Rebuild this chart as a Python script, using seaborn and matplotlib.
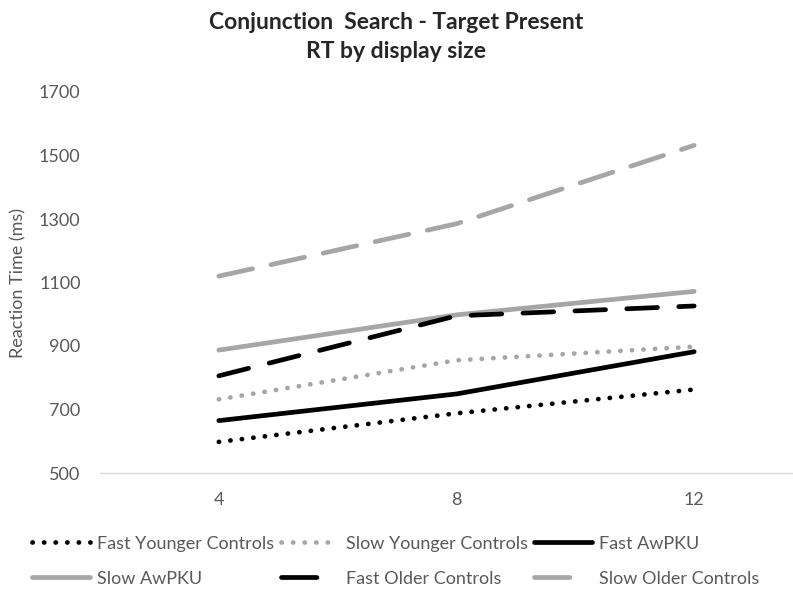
import pandas as pd
import seaborn as sns
import matplotlib.pyplot as plt
from matplotlib.lines import Line2D

# Werte (ms)
display_sizes = ["4", "8", "12"]
fast_younger = [598, 688, 763]
slow_younger = [732, 855, 898]
fast_awpku = [665, 749, 882]
slow_awpku = [887, 998, 1072]
fast_older = [806, 995, 1026]
slow_older = [1120, 1285, 1532]

series_names = ["Fast Younger Controls", "Slow Younger Controls", "Fast AwPKU",
                "Slow AwPKU", "Fast Older Controls", "Slow Older Controls"]
series_values = [fast_younger, slow_younger, fast_awpku, slow_awpku, fast_older, slow_older]

BLACK = "#000000"
GREY = "#A6A6A6"
LW = 3.4
styles = {
    "Fast Younger Controls": (BLACK, (0, (0.05, 2.4))),
    "Slow Younger Controls": (GREY, (0, (0.05, 2.4))),
    "Fast AwPKU": (BLACK, "-"),
    "Slow AwPKU": (GREY, "-"),
    "Fast Older Controls": (BLACK, (0, (6.5, 4.5))),
    "Slow Older Controls": (GREY, (0, (7.3, 4.0))),
}

sns.set_style("white")
plt.rcParams["font.family"] = ["Lato", "DejaVu Sans"]

fig = plt.figure(figsize=(7.93, 5.90), dpi=100)
ax = fig.add_axes([100 / 793, 117 / 590, 713 / 793, 381 / 590])

for name, vals in zip(series_names, series_values):
    color, ls = styles[name]
    df = pd.DataFrame({"size": display_sizes, "rt": vals})
    sns.lineplot(data=df, x="size", y="rt", ax=ax, color=color, linestyle=ls,
                 linewidth=LW, sort=False, legend=False,
                 solid_capstyle="round", dash_capstyle="round")

ax.set_xlim(-0.5, 2.5)
ax.set_ylim(500, 1700)
ax.set_yticks(range(500, 1701, 200))
ax.set_xlabel("")
ax.set_ylabel("Reaction Time (ms)", color="#595959", fontsize=13, labelpad=9)
ax.tick_params(axis="both", colors="#595959", labelsize=13, length=0)
ax.tick_params(axis="x", pad=14)
ax.tick_params(axis="y", pad=14)

sns.despine(ax=ax, left=True, top=True, right=True)
ax.spines["bottom"].set_color("#D9D9D9")
ax.spines["bottom"].set_linewidth(1)

fig.text(0.5, 0.962, "Conjunction  Search - Target Present", ha="center", va="center",
         fontsize=16.5, fontweight="bold")
fig.text(0.5, 0.912, "RT by display size", ha="center", va="center",
         fontsize=16.5, fontweight="bold")

# Legende wie in Excel: Striche nur als ein Segment
legend_styles = dict(styles)
legend_styles["Fast Older Controls"] = (BLACK, (0, (7.5, 20)))
legend_styles["Slow Older Controls"] = (GREY, (0, (7.5, 20)))
handles = []
for name in series_names:
    color, ls = legend_styles[name]
    handles.append(Line2D([], [], color=color, linestyle=ls, linewidth=LW,
                          solid_capstyle="round", dash_capstyle="round"))

# 2 Zeilen x 3 Spalten (spaltenweise befüllt)
order = [0, 3, 1, 4, 2, 5]
fig.legend([handles[i] for i in order], [series_names[i] for i in order],
           loc="lower left", bbox_to_anchor=(0.02, -0.022), ncol=3, frameon=False,
           fontsize=13, handlelength=3.2, handletextpad=0.4, columnspacing=0.35,
           labelspacing=1.05, labelcolor="#595959")

plt.savefig("out.png", dpi=100)
